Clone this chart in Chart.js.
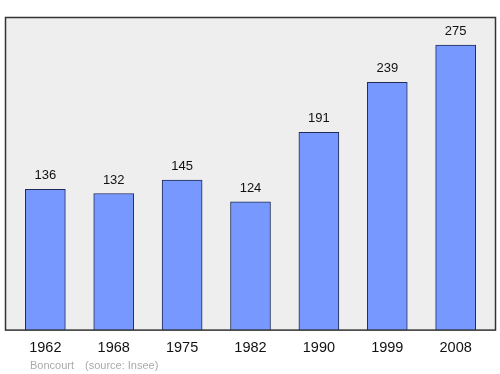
<!DOCTYPE html>
<html>
<head>
<meta charset="utf-8">
<script src="https://cdn.jsdelivr.net/npm/chart.js@4"></script>
<style>
html,body{margin:0;padding:0;background:#fff;}
#wrap{width:500px;height:374px;position:relative;}
</style>
</head>
<body>
<div id="wrap"><canvas id="c" width="500" height="374"></canvas></div>
<script>
const years = ['1962','1968','1975','1982','1990','1999','2008'];
const population = [136,132,145,124,191,239,275];
const place = 'Boncourt';
const source = '(source: Insee)';

const points = population.map((v,i)=>({x:i,y:v}));

const decor = {
  id:'decor',
  beforeDatasetsDraw(chart){
    const {ctx, chartArea:a} = chart;
    ctx.save();
    ctx.fillStyle = '#eeeeee';
    ctx.fillRect(a.left, a.top, a.right-a.left, a.bottom-a.top);
    ctx.restore();
  },
  afterDatasetsDraw(chart){
    const {ctx, chartArea:a} = chart;
    ctx.save();
    ctx.strokeStyle = '#333333';
    ctx.lineWidth = 1.5;
    ctx.strokeRect(a.left+0.5, a.top+0.5, a.right-a.left-1, a.bottom-a.top-1);
    const meta = chart.getDatasetMeta(0);
    ctx.fillStyle = '#111111';
    ctx.font = '13px "Liberation Sans", Arial, sans-serif';
    ctx.textAlign = 'center';
    ctx.textBaseline = 'alphabetic';
    meta.data.forEach((el,i)=>{
      ctx.fillText(String(population[i]), el.x, el.y - 10);
    });
    ctx.fillStyle = '#aaaaaa';
    ctx.font = '11px "Liberation Sans", Arial, sans-serif';
    ctx.textAlign = 'left';
    ctx.fillText(place, 30, 369);
    ctx.fillText(source, 85, 369);
    ctx.restore();
  }
};

new Chart(document.getElementById('c'), {
  type:'bar',
  data:{datasets:[{
    data:points,
    backgroundColor:'#7799ff',
    borderColor:'#1f2a55',
    borderWidth:1,
    barThickness:40
  }]},
  options:{
    responsive:false,
    animation:false,
    devicePixelRatio:1,
    layout:{padding:{left:5,right:4,top:17,bottom:8}},
    plugins:{legend:{display:false},tooltip:{enabled:false}},
    scales:{
      x:{
        type:'linear',
        offset:false,
        min:-0.59,max:6.59,
        grid:{display:false,drawTicks:false,tickLength:0},
        border:{display:false},
        afterBuildTicks(axis){ axis.ticks = years.map((y,i)=>({value:i})); },
        ticks:{
          autoSkip:false,
          maxRotation:0,
          padding:9,
          color:'#111111',
          font:{family:'"Liberation Sans", Arial, sans-serif',size:14.5},
          callback:(v)=>years[v]
        }
      },
      y:{
        display:false,
        min:0,max:302
      }
    }
  },
  plugins:[decor]
});
</script>
</body>
</html>
